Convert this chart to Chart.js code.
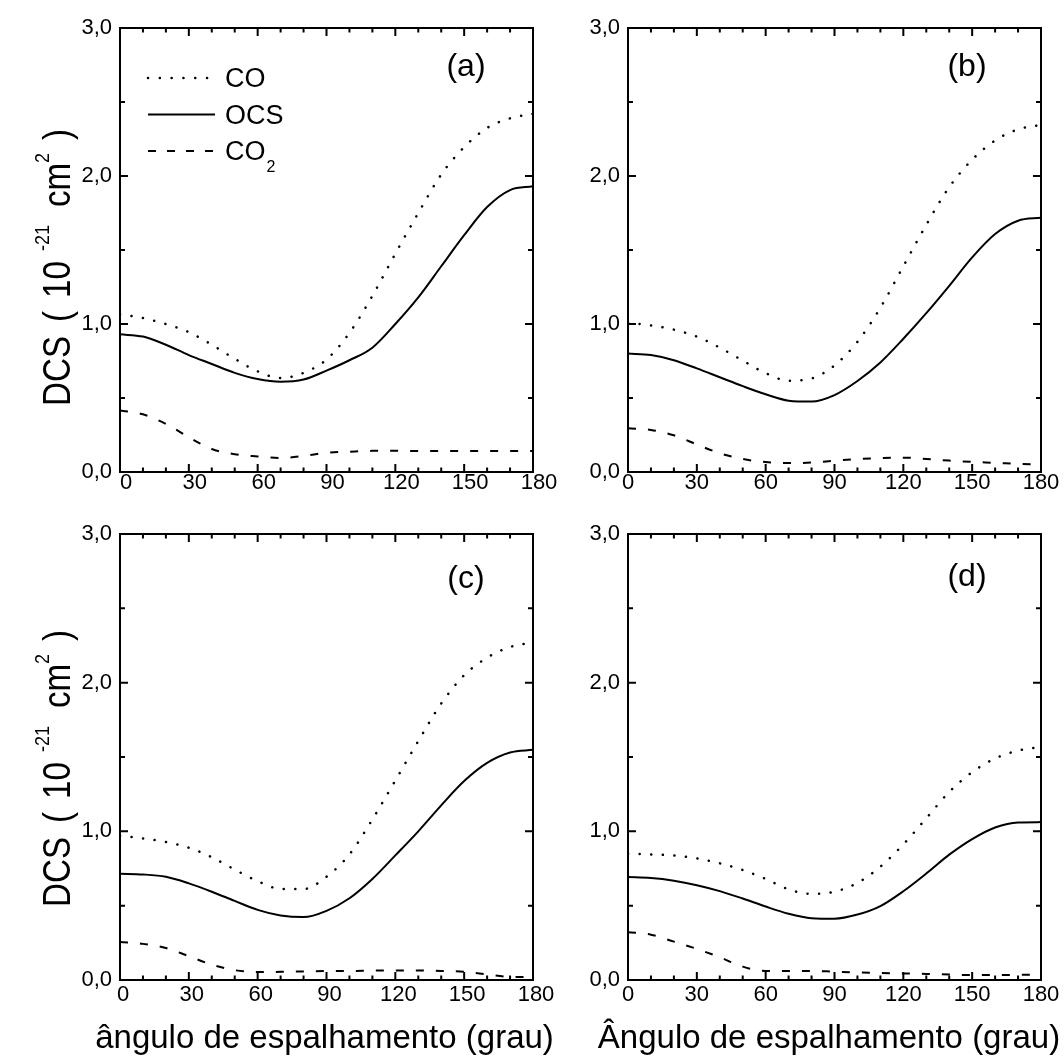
<!DOCTYPE html>
<html><head><meta charset="utf-8">
<script src="https://cdn.jsdelivr.net/npm/chart.js@4"></script>
<style>
html,body{margin:0;padding:0;background:#fff;}
body{width:1064px;height:1057px;position:relative;overflow:hidden;}
canvas{position:absolute;}
</style></head><body>
<canvas id="ca" width="600" height="505" style="left:0;top:0"></canvas>
<canvas id="cb" width="519" height="505" style="left:545px;top:0"></canvas>
<canvas id="cc" width="600" height="552" style="left:0;top:505px"></canvas>
<canvas id="cd" width="519" height="552" style="left:545px;top:505px"></canvas>
<script>
// ---- data ----
const angles = [0,10,20,30,40,50,60,70,80,90,100,110,120,130,140,150,160,170,180];

const aCO   = [1.065,1.04,1.0,0.945,0.86,0.765,0.68,0.635,0.67,0.76,0.94,1.19,1.475,1.75,2.01,2.195,2.325,2.39,2.42];
const aOCS  = [0.93,0.915,0.86,0.79,0.73,0.67,0.628,0.61,0.625,0.685,0.755,0.84,1.0,1.18,1.39,1.60,1.79,1.905,1.93];
const aCO2  = [0.415,0.39,0.325,0.235,0.155,0.12,0.105,0.095,0.108,0.13,0.137,0.143,0.144,0.142,0.142,0.142,0.142,0.142,0.142];

const bCO   = [1.01,0.99,0.962,0.915,0.84,0.753,0.668,0.617,0.632,0.72,0.88,1.11,1.39,1.67,1.925,2.11,2.24,2.315,2.345];
const bOCS  = [0.80,0.79,0.755,0.70,0.64,0.58,0.525,0.482,0.476,0.52,0.615,0.74,0.90,1.073,1.258,1.45,1.608,1.698,1.718];
const bCO2  = [0.295,0.284,0.248,0.186,0.127,0.088,0.067,0.06,0.064,0.076,0.087,0.094,0.097,0.088,0.077,0.068,0.062,0.055,0.05];

const cCO   = [0.97,0.952,0.928,0.89,0.826,0.743,0.665,0.613,0.612,0.695,0.845,1.08,1.342,1.607,1.86,2.05,2.168,2.24,2.27];
const cOCS  = [0.715,0.71,0.694,0.65,0.594,0.532,0.472,0.434,0.423,0.465,0.55,0.68,0.838,1.0,1.175,1.338,1.46,1.53,1.548];
const cCO2  = [0.255,0.243,0.215,0.16,0.103,0.066,0.054,0.055,0.058,0.06,0.06,0.063,0.064,0.064,0.061,0.055,0.038,0.021,0.02];

const dCO   = [0.85,0.845,0.837,0.818,0.785,0.74,0.68,0.61,0.579,0.594,0.653,0.763,0.912,1.088,1.265,1.398,1.49,1.543,1.567];
const dOCS  = [0.692,0.686,0.668,0.638,0.598,0.548,0.494,0.446,0.416,0.412,0.44,0.497,0.597,0.716,0.843,0.948,1.026,1.06,1.062];
const dCO2  = [0.322,0.305,0.258,0.209,0.153,0.09,0.061,0.061,0.061,0.056,0.051,0.047,0.044,0.041,0.037,0.033,0.033,0.035,0.037];

const xTickValues = [0,30,60,90,120,150,180];
const xTickLabels = ['0','30','60','90','120','150','180'];
const xMinorValues = [0,10,20,30,40,50,60,70,80,90,100,110,120,130,140,150,160,170,180];
const yTickValues = [0,1,2,3];
const yTickLabels = ['0,0','1,0','2,0','3,0'];
const yMinorValues = [0,0.5,1,1.5,2,2.5,3];

const seriesNames = ['CO','OCS','CO'];   // third drawn with subscript 2
const panelLabels = ['(a)','(b)','(c)','(d)'];
const xTitles = ['ângulo de espalhamento (grau)','Ângulo de espalhamento (grau)'];
const yTitleParts = [['DCS',0],['(',0],['10',0],['-21',1],['cm',0],['2',1],[')',0]];

// ---- drawing ----
const FONT = '"Liberation Sans", Arial, Helvetica, sans-serif';

function pts(vals){ return angles.map((a,i)=>({x:a,y:vals[i]})); }

function drawYTitle(ctx, bx, cy){
  const offs = [0,84,108,155,199,243,266];
  const total = 290;
  ctx.save();
  ctx.translate(bx, cy);
  ctx.rotate(-Math.PI/2);
  ctx.fillStyle = '#000';
  ctx.textBaseline = 'alphabetic';
  ctx.textAlign = 'left';
  yTitleParts.forEach((p,i)=>{
    ctx.save();
    ctx.translate(offs[i]-total/2, p[1] ? -21 : 0);
    ctx.scale(p[1]?0.9:0.85, 1);
    ctx.font = (p[1] ? '20px ' : '39px ') + FONT;
    ctx.fillText(p[0], 0, 0);
    ctx.restore();
  });
  ctx.restore();
}

function drawLegend(ctx){
  const rows = [78, 114.5, 151];
  const dashes = [[0.1,11.7],[],[8,11]];
  const widths = [2.5,2,2];
  ctx.save();
  ctx.strokeStyle = '#000';
  for(let i=0;i<3;i++){
    ctx.beginPath();
    ctx.lineWidth = widths[i];
    ctx.lineCap = i===0 ? 'round' : 'butt';
    ctx.setLineDash(dashes[i]);
    ctx.moveTo(148, rows[i]); ctx.lineTo(215, rows[i]);
    ctx.stroke();
  }
  ctx.setLineDash([]);
  ctx.fillStyle = '#000';
  ctx.textAlign = 'left';
  ctx.textBaseline = 'alphabetic';
  ctx.font = '27px ' + FONT;
  ctx.fillText(seriesNames[0], 225, 86.5);
  ctx.fillText(seriesNames[1], 225, 123.5);
  ctx.fillText(seriesNames[2], 225, 159.5);
  const w = ctx.measureText(seriesNames[2]).width;
  ctx.font = '16px ' + FONT;
  ctx.fillText('2', 225 + w + 1, 171.5);
  ctx.restore();
}

const panels = [
  {id:'ca', data:[aCO,aOCS,aCO2], area:{l:120,t:28,r:533,b:472}, W:600,H:505, lab:panelLabels[0], labXY:[466,75.5], yTitle:[70,261], xTitle:null, legend:true, xOff:6, xPad:-2},
  {id:'cb', data:[bCO,bOCS,bCO2], area:{l:83,t:28,r:496,b:472}, W:519,H:505, lab:panelLabels[1], labXY:[422,75.5], yTitle:null, xTitle:null, legend:false, xOff:0, xPad:-2},
  {id:'cc', data:[cCO,cOCS,cCO2], area:{l:120,t:29,r:533,b:475}, W:600,H:552, lab:panelLabels[2], labXY:[466,83], yTitle:[70,257], xTitle:[xTitles[0],324.5,543], legend:false, xOff:3, xPad:2},
  {id:'cd', data:[dCO,dOCS,dCO2], area:{l:83,t:29,r:496,b:475}, W:519,H:552, lab:panelLabels[3], labXY:[422,80.5], yTitle:null, xTitle:[xTitles[1],284,543], legend:false, xOff:0, xPad:2},
];

panels.forEach(P=>{
  const deco = {
    id:'deco',
    afterDatasetsDraw(chart){
      const {ctx, chartArea:a, scales:{x,y}} = chart;
      ctx.save();
      ctx.strokeStyle = '#000';
      ctx.setLineDash([]);
      ctx.lineWidth = 2;
      ctx.strokeRect(a.left, a.top, a.right-a.left, a.bottom-a.top);
      ctx.beginPath();
      xMinorValues.forEach(v=>{
        const px = x.getPixelForValue(v);
        const len = xTickValues.includes(v) ? 8 : 4.5;
        ctx.moveTo(px, a.bottom); ctx.lineTo(px, a.bottom-len);
        ctx.moveTo(px, a.top); ctx.lineTo(px, a.top+len);
      });
      yMinorValues.forEach(v=>{
        const py = y.getPixelForValue(v);
        const len = yTickValues.includes(v) ? 8 : 5;
        ctx.moveTo(a.left, py); ctx.lineTo(a.left+len, py);
        ctx.moveTo(a.right, py); ctx.lineTo(a.right-len, py);
      });
      ctx.stroke();
      ctx.restore();
    },
    afterDraw(chart){
      const ctx = chart.ctx;
      ctx.save();
      ctx.fillStyle = '#000';
      ctx.font = '32px ' + FONT;
      ctx.textAlign = 'center';
      ctx.textBaseline = 'alphabetic';
      ctx.fillText(P.lab, P.labXY[0], P.labXY[1]);
      if (P.xTitle){
        ctx.font = '33px ' + FONT;
        ctx.fillText(P.xTitle[0], P.xTitle[1], P.xTitle[2]);
      }
      ctx.restore();
      if (P.yTitle) drawYTitle(ctx, P.yTitle[0], P.yTitle[1]);
      if (P.legend) drawLegend(ctx);
    }
  };
  new Chart(document.getElementById(P.id), {
    type:'line',
    data:{datasets:[
      {label:'CO', data:pts(P.data[0]), borderColor:'#000', borderWidth:2.5, borderDash:[0.1,11.5], borderCapStyle:'round', pointRadius:0, cubicInterpolationMode:'monotone', fill:false},
      {label:'OCS', data:pts(P.data[1]), borderColor:'#000', borderWidth:2, pointRadius:0, cubicInterpolationMode:'monotone', fill:false},
      {label:'CO2', data:pts(P.data[2]), borderColor:'#000', borderWidth:2, borderDash:[8,12], pointRadius:0, cubicInterpolationMode:'monotone', fill:false},
    ]},
    options:{
      responsive:false, animation:false, devicePixelRatio:1,
      layout:{padding:{left:0, top:P.area.t, right:P.W-P.area.r, bottom:0}},
      plugins:{legend:{display:false}, tooltip:{enabled:false}},
      scales:{
        x:{type:'linear', min:0, max:180,
           grid:{display:false, drawTicks:false}, border:{display:false},
           afterBuildTicks(s){ s.ticks = xTickValues.map(v=>({value:v})); },
           ticks:{color:'#000', font:{family:FONT, size:22}, padding:P.xPad, labelOffset:P.xOff, maxRotation:0, autoSkip:false,
                  callback:(v)=>xTickLabels[xTickValues.indexOf(v)]},
           afterFit(s){ s.height = P.H - P.area.b; s.paddingLeft=0; s.paddingRight=0; }},
        y:{type:'linear', min:0, max:3,
           grid:{display:false, drawTicks:false}, border:{display:false},
           afterBuildTicks(s){ s.ticks = yTickValues.map(v=>({value:v})); },
           ticks:{color:'#000', font:{family:FONT, size:22}, padding:8,
                  callback:(v)=>yTickLabels[yTickValues.indexOf(v)]},
           afterFit(s){ s.width = P.area.l; s.paddingTop=0; s.paddingBottom=0; }}
      }
    },
    plugins:[deco]
  });
});
</script>
</body></html>
